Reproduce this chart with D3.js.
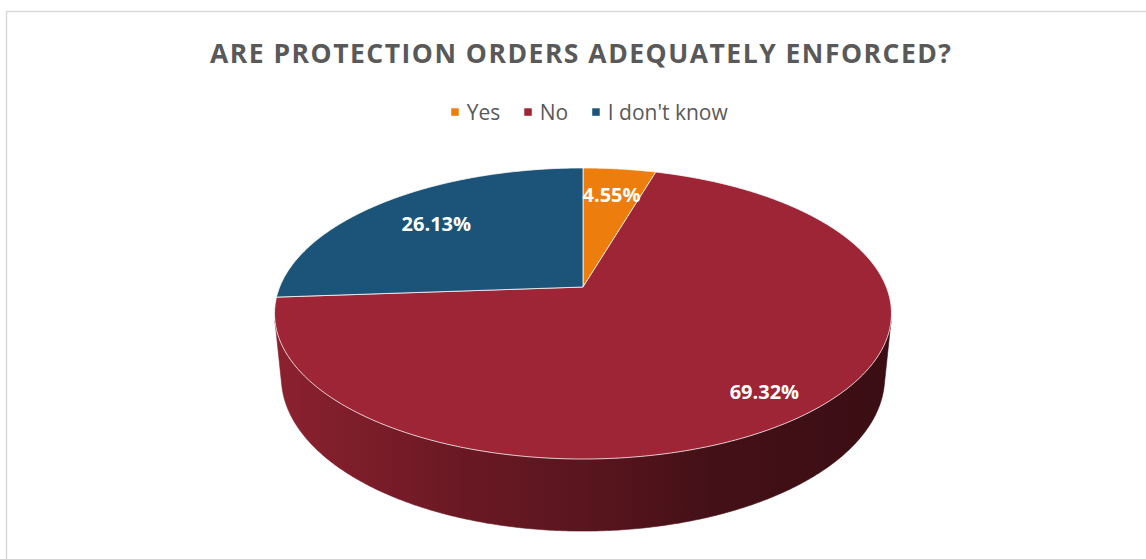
<!DOCTYPE html>
<html>
<head>
<meta charset="utf-8">
<script src="https://cdn.jsdelivr.net/npm/d3@7"></script>
<style>
  html, body { margin: 0; padding: 0; background: #fff; }
  svg { display: block; }
</style>
</head>
<body>
<svg id="chart" width="1146" height="559"></svg>
<script>
// Survey answers
const categories = ["Yes", "No", "I don't know"];
const values = [4.55, 69.32, 26.13];
const valueLabels = ["4.55%", "69.32%", "26.13%"];
const titleText = "ARE PROTECTION ORDERS ADEQUATELY ENFORCED?";

// Styling
const palette = ["#ED7D0C", "#9E2535", "#1B5478"];
const labelRadius = [0.75, 0.84, 0.72];   // label distance as fraction of radius

const svg = d3.select("#chart");
const W = 1146, H = 559;

// chart frame
svg.append("rect")
  .attr("x", 6.5).attr("y", 11.5)
  .attr("width", W + 10).attr("height", H + 10)
  .attr("fill", "#fff").attr("stroke", "#d9d9d9").attr("stroke-width", 1.5);

// title
svg.append("text")
  .attr("x", 580.5).attr("y", 62.7)
  .attr("text-anchor", "middle")
  .attr("font-family", "'Open Sans', sans-serif")
  .attr("font-weight", 700)
  .attr("font-size", 26.5)
  .attr("fill", "#595959")
  .attr("textLength", 741)
  .attr("lengthAdjust", "spacing")
  .text(titleText);

// legend
const color = d3.scaleOrdinal().domain(categories).range(palette);
const legend = svg.append("g");
const items = legend.selectAll("g").data(categories).join("g");
items.append("rect")
  .attr("width", 7.5).attr("height", 7.5)
  .attr("y", 108.3)
  .attr("fill", d => color(d));
items.append("text")
  .attr("y", 120)
  .attr("font-family", "'Open Sans', sans-serif")
  .attr("font-size", 21)
  .attr("fill", "#595959")
  .text(d => d);
{
  const sqW = 7.5, gapIn = 8, gapOut = 24;
  const widths = items.nodes().map(n => n.querySelector("text").getComputedTextLength());
  const total = widths.reduce((s, w) => s + sqW + gapIn + w, 0) + gapOut * (widths.length - 1);
  let x = 589.5 - total / 2;
  items.each(function (d, i) {
    const g = d3.select(this);
    g.select("rect").attr("x", x);
    g.select("text").attr("x", x + sqW + gapIn);
    x += sqW + gapIn + widths[i] + gapOut;
  });
}

// perspective pie: top disc projected with a homography
const cx = 583, cy = 287, ax = 303.3, by = 140.7, kp = 0.182;
function project(theta, r) {
  const u = r * Math.sin(theta), v = -r * Math.cos(theta);
  const w = 1 - kp * v;
  return [cx + ax * u / w, cy + by * v / w];
}
// bottom disc: homology with vertical vanishing point and the horizon as axis
const Vx = cx, Vy = 3230, Iy = cy - by / kp, mu = 1.105;
function lower(p) {
  const [x, y] = p;
  const r = ((y - Vy) / (y - Iy)) / mu;
  const y2 = (Vy - r * Iy) / (1 - r);
  const x2 = Vx + (x - Vx) * (y2 - Vy) / (y - Vy);
  return [x2, y2];
}

// silhouette angles (tangents from the vanishing point)
let thR = 0, thL = 0, sMax = -Infinity, sMin = Infinity;
for (let i = 0; i < 3600; i++) {
  const t = i / 3600 * 2 * Math.PI;
  const [x, y] = project(t, 1);
  const s = (x - Vx) / (Vy - y);
  if (s > sMax) { sMax = s; thR = t; }
  if (s < sMin) { sMin = s; thL = t; }
}

const pie = d3.pie().sort(null).value(d => d.value).startAngle(0).endAngle(2 * Math.PI);
const arcs = pie(categories.map((c, i) => ({ name: c, value: values[i], label: valueLabels[i], lr: labelRadius[i] })));

function arcPoints(t0, t1, r) {
  const n = Math.max(2, Math.ceil((t1 - t0) / (Math.PI / 360)));
  return d3.range(n + 1).map(i => project(t0 + (t1 - t0) * i / n, r));
}

// wall shading gradients
const defs = svg.append("defs");
const shadeStops = [[0, 0.886], [0.29, 0.68], [0.5, 0.57], [0.71, 0.43], [1, 0.37]];
arcs.forEach((a, i) => {
  const base = d3.rgb(color(a.data.name));
  const g = defs.append("linearGradient")
    .attr("id", "wall" + i)
    .attr("gradientUnits", "userSpaceOnUse")
    .attr("x1", cx - ax * 1.017).attr("x2", cx + ax * 1.017)
    .attr("y1", 0).attr("y2", 0);
  shadeStops.forEach(([o, f]) => {
    g.append("stop").attr("offset", o)
      .attr("stop-color", d3.rgb(base.r * f, base.g * f, base.b * f).formatHex());
  });
});

// outer walls (front-facing part only)
const line = d3.line();
const walls = svg.append("g");
arcs.forEach((a, i) => {
  const t0 = Math.max(a.startAngle, thR), t1 = Math.min(a.endAngle, thL);
  if (t1 <= t0) return;
  const top = arcPoints(t0, t1, 1);
  const bot = top.map(lower).reverse();
  walls.append("path")
    .attr("d", line(top.concat(bot)) + "Z")
    .attr("fill", `url(#wall${i})`)
    .attr("stroke", `url(#wall${i})`)
    .attr("stroke-width", 0.6);
});

// top faces
const tops = svg.append("g");
arcs.forEach(a => {
  const pts = [project(0, 0)].concat(arcPoints(a.startAngle, a.endAngle, 1));
  tops.append("path")
    .attr("d", line(pts) + "Z")
    .attr("fill", color(a.data.name))
    .attr("stroke", "#fff")
    .attr("stroke-opacity", 0.75)
    .attr("stroke-width", 1)
    .attr("stroke-linejoin", "round");
});

// value labels
svg.append("g").selectAll("text").data(arcs).join("text")
  .each(function (a) {
    const [x, y] = project((a.startAngle + a.endAngle) / 2, a.data.lr);
    d3.select(this).attr("x", x).attr("y", y);
  })
  .attr("text-anchor", "middle")
  .attr("dominant-baseline", "central")
  .attr("font-family", "'Open Sans', sans-serif")
  .attr("font-weight", 700)
  .attr("font-size", 20)
  .attr("fill", "#fff")
  .text(a => a.data.label);
</script>
</body>
</html>
